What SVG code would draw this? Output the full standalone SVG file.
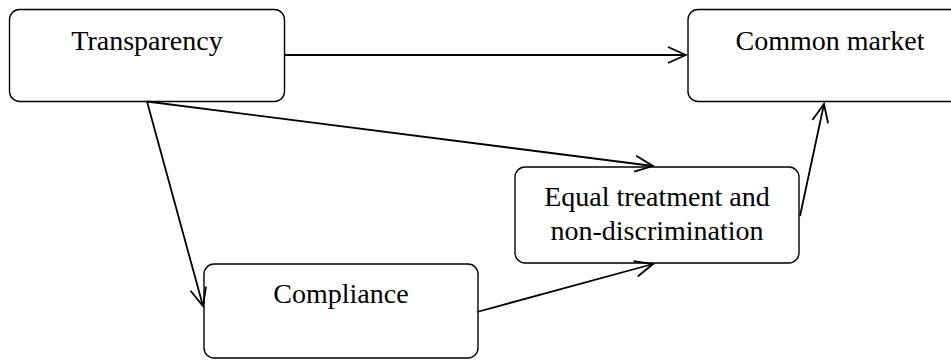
<svg xmlns="http://www.w3.org/2000/svg" width="951" height="360" viewBox="0 0 951 360">
<style>
.box{fill:#fff;stroke:#000;stroke-width:1.4}
.lbl{font-family:"Liberation Serif","Times New Roman",serif;font-size:28px;fill:#000;text-anchor:middle}
.edge{fill:none;stroke:#000;stroke-width:1.8}
</style>
<defs>
<marker id="arr" markerUnits="userSpaceOnUse" markerWidth="24" markerHeight="24" viewBox="-22 -12 24 24" refX="0" refY="0" orient="auto">
<path d="M-18,-8 L0,0 L-18,8" fill="none" stroke="#000" stroke-width="1.8"/>
</marker>
</defs>
<rect width="951" height="360" fill="#fff"/>
<g id="transparency">
<rect class="box" x="9.5" y="9.5" width="275" height="92" rx="10"/>
<text class="lbl" x="147" y="49.5">Transparency</text>
</g>
<g id="common-market">
<rect class="box" x="688" y="9.5" width="284" height="92" rx="10"/>
<text class="lbl" x="830" y="49.5">Common market</text>
</g>
<g id="equal-treatment">
<rect class="box" x="515" y="167" width="284" height="96" rx="10"/>
<text class="lbl" x="657" y="206">Equal treatment and</text>
<text class="lbl" x="657" y="240">non-discrimination</text>
</g>
<g id="compliance">
<rect class="box" x="204" y="264" width="274" height="94" rx="10"/>
<text class="lbl" x="341" y="303">Compliance</text>
</g>
<g id="connectors">
<line class="edge" x1="284.5" y1="55" x2="686" y2="55" marker-end="url(#arr)"/>
<line class="edge" x1="147" y1="101.5" x2="653" y2="166" marker-end="url(#arr)"/>
<line class="edge" x1="147" y1="101.5" x2="203" y2="306" marker-end="url(#arr)"/>
<line class="edge" x1="477" y1="312" x2="653" y2="264" marker-end="url(#arr)"/>
<line class="edge" x1="800" y1="216" x2="824" y2="104" marker-end="url(#arr)"/>
</g>
</svg>
